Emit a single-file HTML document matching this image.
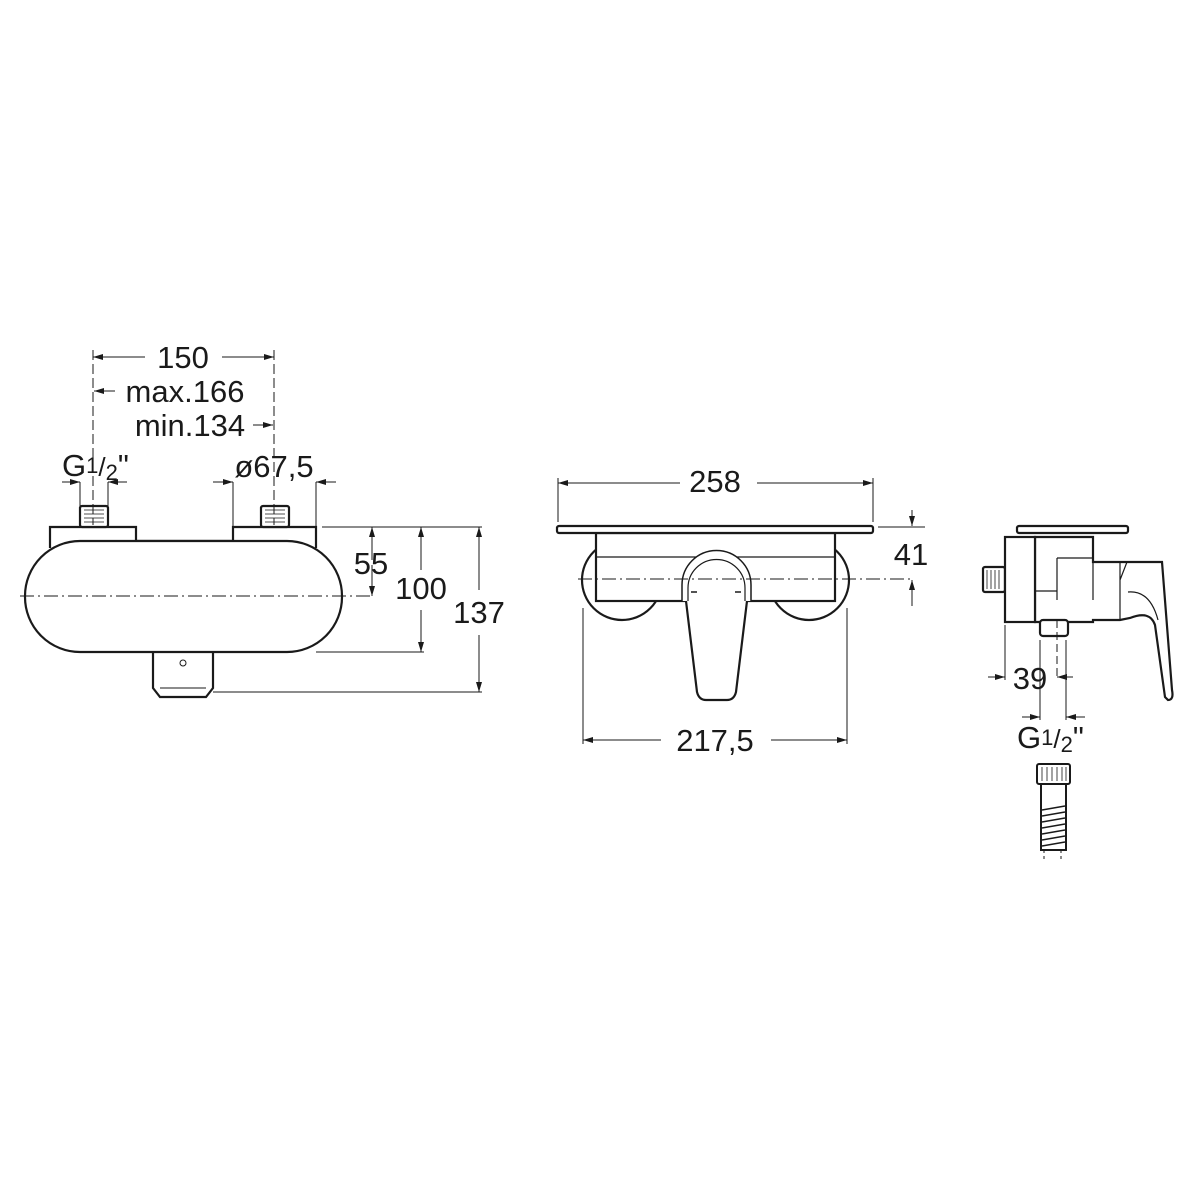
<!DOCTYPE html>
<html><head><meta charset="utf-8"><style>
html,body{margin:0;padding:0;background:#fff;width:1200px;height:1200px;overflow:hidden}
text{font-family:"Liberation Sans",Arial,sans-serif;fill:#1a1a1a}
</style></head><body>
<svg width="1200" height="1200" viewBox="0 0 1200 1200" xmlns="http://www.w3.org/2000/svg">
<defs>
<marker id="a" viewBox="0 0 10 6" refX="10" refY="3" markerWidth="10" markerHeight="6" orient="auto-start-reverse" markerUnits="userSpaceOnUse"><path d="M0,0 L10,3 L0,6 z" fill="#1a1a1a"/></marker>
</defs>
<g stroke="#1a1a1a" fill="none" stroke-width="1">
<!-- LEFT VIEW -->
<g stroke-width="2.2" fill="#fff">
<path d="M50,548 V527 H136 V541 H233 V527 H316 V548"/>
<path d="M153,652 V688 L160,697 H206 L213,688 V652"/>
<rect x="25" y="541" width="317" height="111" rx="55" ry="55"/>
<rect x="80" y="506" width="28" height="21" rx="2"/>
<rect x="261" y="506" width="28" height="21" rx="2"/>
</g>
<path d="M84,510 H104 M84,514 H104 M84,518 H104 M84,522 H104 M265,510 H285 M265,514 H285 M265,518 H285 M265,522 H285" stroke-width="0.8"/>
<circle cx="183" cy="663" r="3"/>
<path d="M160,688 H206" />
<path d="M20,596 H372" stroke-dasharray="14,4,2,4"/>
<path d="M93,350 V525 M274,350 V525" stroke-dasharray="10,4"/>
<line x1="145" y1="357" x2="93" y2="357" marker-end="url(#a)"/>
<line x1="222" y1="357" x2="274" y2="357" marker-end="url(#a)"/>
<line x1="115" y1="391" x2="94" y2="391" marker-end="url(#a)"/>
<line x1="253" y1="425" x2="273" y2="425" marker-end="url(#a)"/>
<path d="M80,482 V506 M108,482 V506 M233,482 V527 M316,482 V527"/>
<line x1="62" y1="482" x2="80" y2="482" marker-end="url(#a)"/>
<line x1="127" y1="482" x2="108" y2="482" marker-end="url(#a)"/>
<line x1="213" y1="482" x2="233" y2="482" marker-end="url(#a)"/>
<line x1="336" y1="482" x2="316" y2="482" marker-end="url(#a)"/>
<path d="M322,527 H482 M316,652 H424 M213,692 H482"/>
<line x1="372" y1="560" x2="372" y2="527" marker-end="url(#a)"/>
<line x1="372" y1="565" x2="372" y2="596" marker-end="url(#a)"/>
<line x1="421" y1="570" x2="421" y2="527" marker-end="url(#a)"/>
<line x1="421" y1="610" x2="421" y2="652" marker-end="url(#a)"/>
<line x1="479" y1="590" x2="479" y2="527" marker-end="url(#a)"/>
<line x1="479" y1="635" x2="479" y2="692" marker-end="url(#a)"/>

<!-- MIDDLE VIEW -->
<g stroke-width="2.2" fill="#fff">
<circle cx="622" cy="580" r="40"/>
<circle cx="809" cy="580" r="40"/>
<rect x="596" y="533" width="239" height="68"/>
<rect x="557" y="526" width="316" height="7" rx="2"/>
</g>
<path d="M596,557 H835" stroke-width="1.2"/>
<path d="M682,601 V585 A34,34 0 0 1 751,585 V601" stroke-width="1.5" fill="#fff"/>
<path d="M688,601 V588 A28,28 0 0 1 745,588 V601" stroke-width="1.2"/>
<path d="M686,601 L697,692 Q699,700 706,700 H727 Q734,700 736,692 L747,601" stroke-width="2.2" fill="#fff"/>
<path d="M691,592 H697 M735,592 H741" stroke-width="1.5"/>
<path d="M578,579 H912" stroke-dasharray="14,4,2,4"/>
<path d="M558,478 V522 M873,478 V522 M583,608 V744 M847,608 V744"/>
<line x1="680" y1="483" x2="558" y2="483" marker-end="url(#a)"/>
<line x1="757" y1="483" x2="873" y2="483" marker-end="url(#a)"/>
<line x1="661" y1="740" x2="583" y2="740" marker-end="url(#a)"/>
<line x1="771" y1="740" x2="847" y2="740" marker-end="url(#a)"/>
<path d="M878,527 H925"/>
<line x1="912" y1="510" x2="912" y2="526" marker-end="url(#a)"/>
<line x1="912" y1="606" x2="912" y2="580" marker-end="url(#a)"/>

<!-- RIGHT VIEW -->
<g stroke-width="2.2" fill="#fff">
<rect x="1017" y="526" width="111" height="7" rx="2"/>
<path d="M1093,537 V562 H1120 L1126,562 H1162 L1172,690 Q1174,700 1168,700 L1165,697 L1155,625 Q1150,610 1130,618 L1120,620 H1093 V622 H1035 V537 Z"/>
<rect x="983" y="567" width="22" height="25" rx="2"/>
<rect x="1005" y="537" width="30" height="85"/>
<rect x="1040" y="620" width="28" height="16" rx="3"/>
</g>
<path d="M1035,537 H1093 M1057,558 H1093 V600 M1057,558 V600 M1120,562 V620 M1035,591 H1057 M1127,562 L1120,580 M1128,592 Q1150,590 1158,620" stroke-width="1.2"/>
<path d="M987,570 V589 M991,570 V589 M995,570 V589 M999,570 V589" stroke-width="0.8"/>
<path d="M1005,625 V680 M1040,640 V720 M1066,640 V720"/>
<path d="M1057,620 V680" stroke-dasharray="8,4"/>
<line x1="988" y1="677" x2="1005" y2="677" marker-end="url(#a)"/>
<line x1="1073" y1="677" x2="1057" y2="677" marker-end="url(#a)"/>
<line x1="1022" y1="717" x2="1040" y2="717" marker-end="url(#a)"/>
<line x1="1085" y1="717" x2="1066" y2="717" marker-end="url(#a)"/>
<!-- hose -->
<g stroke-width="2">
<rect x="1037" y="764" width="33" height="20" rx="2" fill="#fff"/>
<rect x="1041" y="784" width="25" height="66" fill="#fff"/>
</g>
<path d="M1042,767 V781 M1047,767 V781 M1052,767 V781 M1057,767 V781 M1062,767 V781 M1066,767 V781" stroke-width="0.8"/>
<path d="M1042,810 L1065,806 M1042,816 L1065,812 M1042,822 L1065,818 M1042,828 L1065,824 M1042,834 L1065,830 M1042,840 L1065,836 M1042,846 L1065,842" stroke-width="1.5"/>
<path d="M1044,850 V862 M1061,850 V862" stroke-dasharray="3,3"/>
</g>

<g font-size="31">
<text x="183" y="368" text-anchor="middle">150</text>
<text x="185" y="402" text-anchor="middle">max.166</text>
<text x="190" y="436" text-anchor="middle">min.134</text>
<text x="62" y="476">G<tspan font-size="22" dy="-3">1</tspan><tspan font-size="26" dy="3">/</tspan><tspan font-size="22" dy="4">2</tspan><tspan dy="-4">"</tspan></text>
<text x="274" y="477" text-anchor="middle">ø67,5</text>
<text x="371" y="574" text-anchor="middle">55</text>
<text x="421" y="599" text-anchor="middle">100</text>
<text x="479" y="623" text-anchor="middle">137</text>
<text x="715" y="492" text-anchor="middle">258</text>
<text x="911" y="565" text-anchor="middle">41</text>
<text x="715" y="751" text-anchor="middle">217,5</text>
<text x="1030" y="689" text-anchor="middle">39</text>
<text x="1017" y="748">G<tspan font-size="22" dy="-3">1</tspan><tspan font-size="26" dy="3">/</tspan><tspan font-size="22" dy="4">2</tspan><tspan dy="-4">"</tspan></text>
</g>
</svg>
</body></html>
